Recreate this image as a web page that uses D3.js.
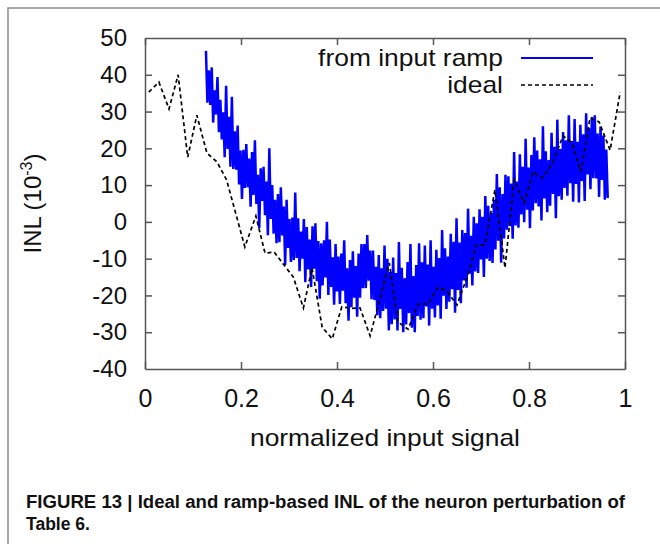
<!DOCTYPE html>
<html>
<head>
<meta charset="utf-8">
<script src="https://cdn.jsdelivr.net/npm/d3@7"></script>
<style>
  body { margin: 0; background: #fff; }
  svg { display: block; }
  .axis path, .axis line { stroke: #555; stroke-width: 1.5; }
  .axis text { font-family: "Liberation Sans", Arial, sans-serif; fill: #111; }
</style>
</head>
<body>
<svg width="660" height="544"></svg>
<script>
  (function(){
    'use strict';

    var WIDTH = 660;
    var HEIGHT = 544;

    var padding = {
      top: 38,
      bottom: 175,
      left: 145,
      right: 35,
    };

    var xTicks = [0, 0.2, 0.4, 0.6, 0.8, 1];
    var xTickLabels = ['0', '0.2', '0.4', '0.6', '0.8', '1'];
    var yTicks = [-40, -30, -20, -10, 0, 10, 20, 30, 40, 50];

    var seriesNames = ['from input ramp', 'ideal'];

    // ideal INL
    var idealX = [0.008, 0.029, 0.05, 0.069, 0.089, 0.108, 0.129, 0.15, 0.17, 0.208,
      0.231, 0.25, 0.269, 0.309, 0.33, 0.348, 0.369, 0.39, 0.41, 0.43,
      0.448, 0.469, 0.509, 0.527, 0.548, 0.569, 0.59, 0.61, 0.629, 0.65,
      0.671, 0.69, 0.708, 0.729, 0.75, 0.769, 0.79, 0.808, 0.829, 0.85,
      0.871, 0.89, 0.908, 0.927, 0.946, 0.969, 0.99];
    var idealY = [35.3, 38, 30.7, 40, 17.6, 29, 18.7, 16.3, 11.4, -6.8,
      1.6, -8.5, -8.2, -15, -23.4, -12.5, -28.6, -31.8, -23.1, -23.5,
      -23.4, -31, -11.2, -27.2, -29.2, -22.3, -22.3, -17.8, -18.8, -22.6,
      -15, -6.3, -6.3, 8.7, -12.5, 11.4, 5.1, 13.6, 11.9, 16.3,
      23.4, 21.4, 13.6, 28.2, 27.2, 19.5, 35.3];

    // ramp measurement: samples from x = 0.127, one every 0.003
    var rampStart = 0.127;
    var rampStep = 0.003;
    var rampY = [
      46.5, 32.4, 41.2, 31.8, 42, 27, 35.8, 29.2, 39.4, 24.4,
      33.2, 22.4, 29.8, 17.6, 37, 19.8, 28.6, 15, 34, 14.4,
      24.6, 14.2, 26.2, 10.2, 19.4, 6.2, 19.6, 9.2, 21.2, 9.4,
      17.2, 4.1, 19, 7.3, 22.2, 4.9, 12.8, -1.7, 14.6, 5.7,
      15, 1.8, 11, -3.6, 20, 0.8, 10, -3.2, 6, -5.8,
      7.6, -5.5, 9.4, -3.7, 4.2, -11.7, 6, -7.1, 0.8, -10.9,
      1.2, -10.4, 8, -9.8, 1, -13.4, -2.6, -10, 0.8, -16.4,
      -1.4, -12.9, -4.8, -17.7, -1.2, -12.7, -0.4, -16.1, -5.2, -20.9,
      -5.8, -17.3, -5, -15.1, 0, -19.9, -4.8, -17.7, -9.6, -22.5,
      -6, -18.9, -9.4, -22.3, -8.6, -18.7, -5, -22.1, -12.6, -26.9,
      -10.4, -23.2, -8, -20.6, -12, -25.8, -8.6, -20.6, -6, -18,
      -6, -18, -3.6, -16, -7.8, -21, -7.8, -21.2, -12.2, -25.4,
      -9, -26.2, -12.6, -24.2, -6.4, -23.6, -10, -29.5, -13.6, -27.8,
      -9.7, -26.5, -13.9, -29.5, -5.5, -23.7, -12.5, -30, -15.3, -27.9,
      -10.9, -24.8, -6, -28.8, -14.7, -30, -11.7, -25.6, -5.8, -26.6,
      -11, -26.2, -6.4, -23, -11.6, -28.2, -5, -23.6, -12.2, -26,
      -7.6, -22.7, -9.8, -26.3, -2.2, -20.1, -7.2, -23.7, -9.4, -21.7,
      -3.2, -18.3, -5.4, -24.7, 1, -18.5, -5.6, -22.1, -2.2, -15.9,
      -3, -17.9, 3.6, -14.1, -3.8, -17.3, 1.4, -13.5, -0.4, -13.9,
      3.4, -10.2, 1.4, -15, 7, -10, 4.4, -10.6, 2.4, -11.2,
      6, -7.5, 13, -5.1, 9.4, -11.1, 7.6, -4.5, 12.8, -2.1,
      12.4, -1.2, 10.4, -4.6, 19, -1, 11, -1.6, 18.4, 2,
      15, -0.1, 22.6, 3.3, 14.8, -1.7, 18.2, 3.1, 23, 5.1,
      19.4, 4.2, 17, 0.4, 26, 6.4, 19.2, 2.6, 16.8, 4.4,
      24.2, 7.6, 20.4, 1, 27.8, 7, 19.8, 6, 24.4, 9.2,
      22.2, 7.1, 29, 10.5, 22, 5.5, 28, 10.3, 21.8, 5.3,
      26.4, 11.1, 23.8, 5.7, 29.5, 12.9, 25.6, 8.9, 28.5, 11.9,
      29, 11.8, 24, 6.8, 25.9, 11.4, 23.5, 6, 19.7, 6.5
    ];

    var svg = d3.select('svg');

    // figure frame (top and left edges only)
    svg.append('path')
      .attr('d', 'M8,544V8H660')
      .attr('fill', 'none')
      .attr('stroke', '#8a8a8a')
      .attr('stroke-width', 1.5);

    var xScale = d3.scaleLinear()
      .domain([0, 1])
      .range([padding.left, WIDTH - padding.right]);

    var yScale = d3.scaleLinear()
      .domain([-40, 50])
      .range([HEIGHT - padding.bottom, padding.top]);

    svg.append('defs').append('clipPath')
      .attr('id', 'plot-clip')
      .append('rect')
      .attr('x', padding.left)
      .attr('y', padding.top)
      .attr('width', WIDTH - padding.left - padding.right)
      .attr('height', HEIGHT - padding.top - padding.bottom);

    var plot = svg.append('g').attr('clip-path', 'url(#plot-clip)');

    var rampData = rampY.map(function(v, i) {
      return {x: rampStart + i * rampStep, y: v};
    });
    var idealData = idealX.map(function(v, i) {
      return {x: v, y: idealY[i]};
    });

    var line = d3.line()
      .x(function(d) { return xScale(d.x); })
      .y(function(d) { return yScale(d.y); });

    plot.append('path')
      .datum(rampData)
      .attr('d', line)
      .attr('fill', 'none')
      .attr('stroke', '#0000ff')
      .attr('stroke-width', 2.5)
      .attr('stroke-linejoin', 'bevel');

    plot.append('path')
      .datum(idealData)
      .attr('d', line)
      .attr('fill', 'none')
      .attr('stroke', '#000')
      .attr('stroke-width', 1.7)
      .attr('stroke-dasharray', '4,3');

    // axes, ticks pointing inward on all four sides
    svg.append('g')
      .attr('class', 'axis')
      .attr('transform', 'translate(0,' + (HEIGHT - padding.bottom) + ')')
      .call(d3.axisBottom(xScale)
        .tickValues(xTicks)
        .tickFormat(function(d, i) { return xTickLabels[i]; })
        .tickSize(-7).tickSizeOuter(0).tickPadding(20))
      .selectAll('text')
      .attr('font-size', 25);

    svg.append('g')
      .attr('class', 'axis')
      .attr('transform', 'translate(0,' + padding.top + ')')
      .call(d3.axisTop(xScale)
        .tickValues(xTicks)
        .tickFormat(function() { return ''; })
        .tickSize(-7).tickSizeOuter(0));

    svg.append('g')
      .attr('class', 'axis')
      .attr('transform', 'translate(' + padding.left + ',0)')
      .call(d3.axisLeft(yScale)
        .tickValues(yTicks)
        .tickFormat(function(d) { return String(d); })
        .tickSize(-7).tickSizeOuter(0).tickPadding(18))
      .selectAll('text')
      .attr('font-size', 24);

    svg.append('g')
      .attr('class', 'axis')
      .attr('transform', 'translate(' + (WIDTH - padding.right) + ',0)')
      .call(d3.axisRight(yScale)
        .tickValues(yTicks)
        .tickFormat(function() { return ''; })
        .tickSize(-7).tickSizeOuter(0));

    // no tick marks on the frame corners
    svg.selectAll('.axis .tick')
      .filter(function(d) { return d === 50 || d === -40; })
      .select('line')
      .remove();

    // the original text is set slightly wide
    function widen(sel, k) {
      sel.each(function() {
        var w = this.getComputedTextLength();
        d3.select(this)
          .attr('textLength', w * k)
          .attr('lengthAdjust', 'spacingAndGlyphs');
      });
    }

    // axis titles
    var xTitle = svg.append('text')
      .attr('x', (padding.left + WIDTH - padding.right) / 2)
      .attr('y', 446)
      .attr('text-anchor', 'middle')
      .attr('font-family', '"Liberation Sans", Arial, sans-serif')
      .attr('font-size', 24)
      .attr('fill', '#111')
      .text('normalized input signal');
    widen(xTitle, 1.1);

    var yTitle = svg.append('text')
      .attr('transform', 'translate(41,' + ((padding.top + HEIGHT - padding.bottom) / 2) + ') rotate(-90)')
      .attr('text-anchor', 'middle')
      .attr('font-family', '"Liberation Sans", Arial, sans-serif')
      .attr('font-size', 24)
      .attr('fill', '#111');
    yTitle.append('tspan').text('INL (10');
    yTitle.append('tspan').attr('dy', -9).attr('font-size', 16).text('-3');
    yTitle.append('tspan').attr('dy', 9).text(')');

    // legend
    var legend = svg.append('g');
    var legendStyles = [
      {color: '#0000ff', dash: null, width: 2},
      {color: '#000', dash: '4,3', width: 1.5}
    ];
    seriesNames.forEach(function(name, i) {
      var cy = 58 + i * 27;
      var t = legend.append('text')
        .attr('x', 503)
        .attr('y', cy + 8)
        .attr('text-anchor', 'end')
        .attr('font-family', '"Liberation Sans", Arial, sans-serif')
        .attr('font-size', 24)
        .attr('fill', '#111')
        .text(name);
      widen(t, 1.1);
      legend.append('line')
        .attr('x1', 521).attr('x2', 593)
        .attr('y1', cy).attr('y2', cy)
        .attr('stroke', legendStyles[i].color)
        .attr('stroke-width', legendStyles[i].width)
        .attr('stroke-dasharray', legendStyles[i].dash);
    });

    // caption
    var captionLines = ['FIGURE 13 | Ideal and ramp-based INL of the neuron perturbation of', 'Table 6.'];
    var captionWidths = [599, 64];
    captionLines.forEach(function(t, i) {
      svg.append('text')
        .attr('x', 26)
        .attr('y', 508 + i * 22)
        .attr('font-family', '"Liberation Sans Narrow", "Arial Narrow", "Liberation Sans", sans-serif')
        .attr('font-weight', 'bold')
        .attr('font-size', 18)
        .attr('fill', '#111')
        .attr('textLength', captionWidths[i])
        .attr('lengthAdjust', 'spacingAndGlyphs')
        .text(t);
    });
  })();
</script>
</body>
</html>
